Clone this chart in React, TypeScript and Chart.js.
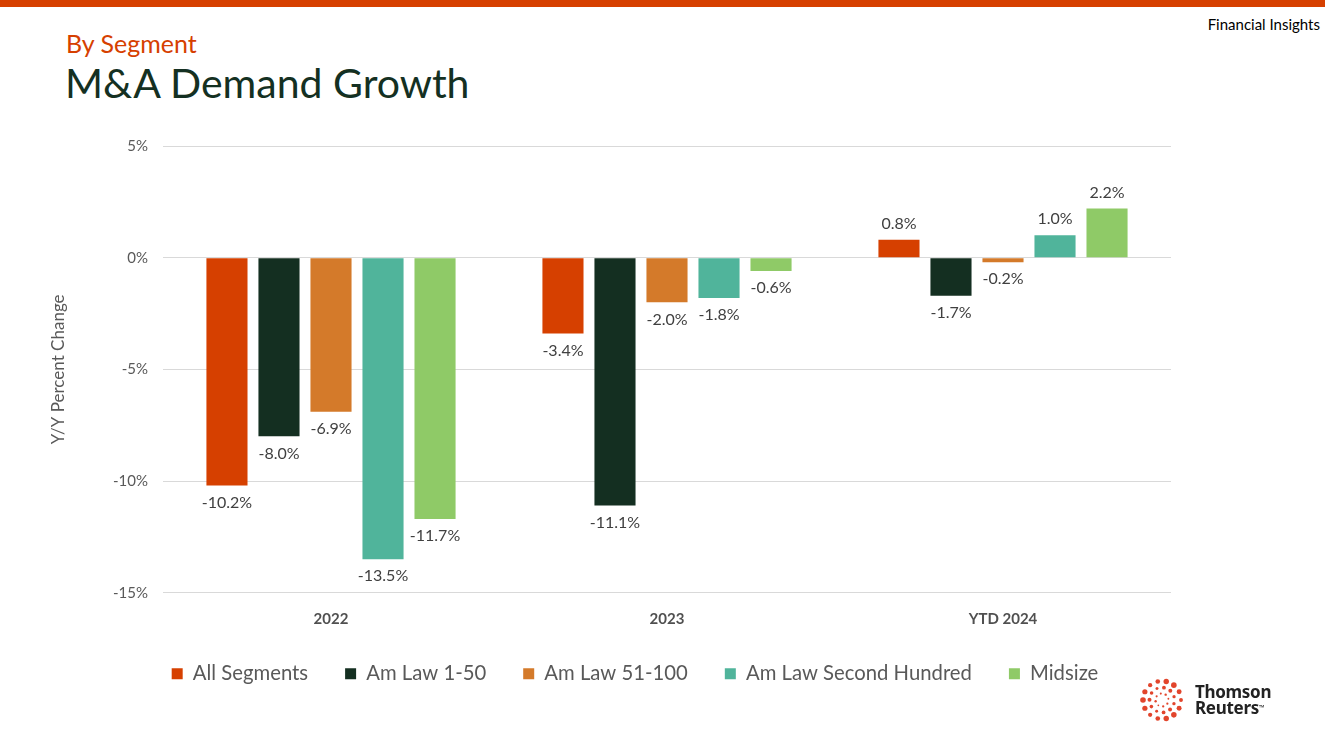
import React, { useEffect, useRef } from "react";
import { Chart, registerables } from "chart.js";

Chart.register(...registerables);

const categories = ["2022", "2023", "YTD 2024"];
const seriesNames = ["All Segments", "Am Law 1-50", "Am Law 51-100", "Am Law Second Hundred", "Midsize"];
const allSegments = [-10.2, -3.4, 0.8];
const amLaw1to50 = [-8.0, -11.1, -1.7];
const amLaw51to100 = [-6.9, -2.0, -0.2];
const amLawSecondHundred = [-13.5, -1.8, 1.0];
const midsize = [-11.7, -0.6, 2.2];
const seriesColors = ["#D64000", "#142F21", "#D47A2A", "#50B49B", "#8FCA67"];
const yTicks = [-15, -10, -5, 0, 5];

const FONT = "Lato, 'Open Sans', sans-serif";

const labelPlugin = {
  id: "barValueLabels",
  afterDatasetsDraw(chart: any) {
    const ctx = chart.ctx;
    ctx.save();
    ctx.font = `16px ${FONT}`;
    ctx.fillStyle = "#404040";
    ctx.textAlign = "center";
    ctx.textBaseline = "middle";
    chart.data.datasets.forEach((ds: any, di: number) => {
      const meta = chart.getDatasetMeta(di);
      meta.data.forEach((bar: any, i: number) => {
        const v = ds.data[i] as number;
        const y = v < 0 ? bar.y + 17 : bar.y - 16;
        ctx.fillText(v.toFixed(1) + "%", bar.x, y);
      });
    });
    ctx.restore();
  },
};

const legendShiftPlugin = {
  id: "legendShift",
  afterLayout(chart: any) {
    if (chart.legend) {
      chart.legend.left += 29.5;
      chart.legend.right += 29.5;
    }
  },
};

function Logo() {
  const dots: JSX.Element[] = [];
  const rings = [
    { r: 19, n: 14, s: 2.8 },
    { r: 12.5, n: 11, s: 2.0 },
    { r: 6.5, n: 8, s: 1.2 },
  ];
  rings.forEach((ring, ri) => {
    for (let k = 0; k < ring.n; k++) {
      const a = (k / ring.n) * Math.PI * 2 + ri * 0.3;
      dots.push(
        <circle key={`${ri}-${k}`} cx={25 + ring.r * Math.cos(a)} cy={25 + ring.r * Math.sin(a)} r={ring.s * (0.7 + 0.3 * Math.abs(Math.sin(a * 1.5)))} fill="#E2452C" />
      );
    }
  });
  return (
    <div style={{ position: "absolute", left: 1137, top: 675, display: "flex", alignItems: "center" }}>
      <svg width="50" height="50">{dots}</svg>
      <div style={{ marginLeft: 8, fontFamily: "'Noto Sans', sans-serif", fontWeight: 700, fontSize: 17, lineHeight: "16px", color: "#222", letterSpacing: -0.3 }}>
        <div>Thomson</div>
        <div>Reuters<sup style={{ fontSize: 7, verticalAlign: "top" }}>™</sup></div>
      </div>
    </div>
  );
}

export default function App() {
  const canvasRef = useRef<HTMLCanvasElement>(null);

  useEffect(() => {
    if (!canvasRef.current) return;
    const values = [allSegments, amLaw1to50, amLaw51to100, amLawSecondHundred, midsize];
    const chart = new Chart(canvasRef.current, {
      type: "bar",
      data: {
        labels: categories,
        datasets: seriesNames.map((name, i) => ({
          label: name,
          data: values[i],
          backgroundColor: seriesColors[i],
          borderWidth: 0,
          categoryPercentage: 0.774,
          barPercentage: 0.79,
        })),
      },
      options: {
        responsive: false,
        animation: false,
        layout: { padding: { top: 13, right: 9, bottom: 8, left: 0 } },
        plugins: {
          tooltip: { enabled: false },
          legend: {
            position: "bottom",
            labels: {
              boxWidth: 11,
              boxHeight: 11,
              padding: 37,
              color: "#595959",
              font: { family: FONT, size: 20.3 },
            },
          },
        },
        scales: {
          x: {
            afterFit: (s: any) => {
              s.height = 34;
            },
            grid: { display: false },
            border: { display: false },
            ticks: { color: "#505050", font: { family: FONT, size: 15, weight: "bold" }, padding: 9 },
          },
          y: {
            min: -15,
            max: 5,
            afterFit: (s: any) => {
              s.width = 123;
            },
            afterBuildTicks: (s: any) => {
              s.ticks = yTicks.map((v) => ({ value: v }));
            },
            grid: { color: "#D9D9D9", drawTicks: false, lineWidth: 1 },
            border: { display: false },
            ticks: {
              color: "#595959",
              font: { family: FONT, size: 15 },
              padding: 15,
              callback: (v: any) => `${v}%`,
            },
            title: {
              display: true,
              text: "Y/Y Percent Change",
              color: "#595959",
              font: { family: FONT, size: 17 },
              padding: { top: 8, bottom: 4 },
            },
          },
        },
      },
      plugins: [labelPlugin, legendShiftPlugin],
    });
    return () => chart.destroy();
  }, []);

  return (
    <div style={{ position: "fixed", left: 0, top: 0, width: 1325, height: 743, background: "#fff", overflow: "hidden" }}>
      <div style={{ position: "absolute", left: 0, top: 0, width: 1325, height: 7, background: "#D64000" }} />
      <div style={{ position: "absolute", right: 5, top: 15, fontFamily: FONT, fontSize: 15, color: "#000" }}>Financial Insights</div>
      <div style={{ position: "absolute", left: 66, top: 28, fontFamily: FONT, fontSize: 25, color: "#D64000", lineHeight: "30px" }}>By Segment</div>
      <div style={{ position: "absolute", left: 65, top: 58, fontFamily: FONT, fontSize: 41, color: "#143022", lineHeight: "50px" }}>M&amp;A Demand Growth</div>
      <div style={{ position: "absolute", left: 40, top: 122 }}>
        <canvas ref={canvasRef} width={1140} height={580} />
      </div>
      <Logo />
    </div>
  );
}
